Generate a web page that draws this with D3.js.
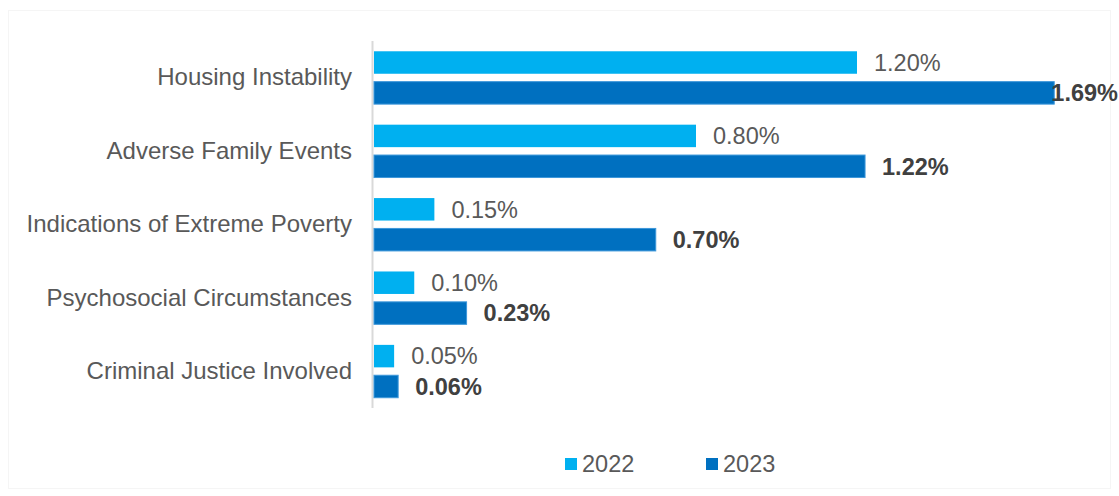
<!DOCTYPE html>
<html>
<head>
<meta charset="utf-8">
<script src="https://cdn.jsdelivr.net/npm/d3@7"></script>
<style>
  html, body { margin: 0; padding: 0; background: #ffffff; }
  svg { display: block; font-family: "Liberation Sans", Arial, sans-serif; }
</style>
</head>
<body>
<svg id="chart" width="1119" height="496"></svg>
<script>
// Categories (top to bottom) and percentage values per year
const categories = [
  "Housing Instability",
  "Adverse Family Events",
  "Indications of Extreme Poverty",
  "Psychosocial Circumstances",
  "Criminal Justice Involved"
];
const years = ["2022", "2023"];
const values2022 = [1.20, 0.80, 0.15, 0.10, 0.05];
const values2023 = [1.69, 1.22, 0.70, 0.23, 0.06];

const W = 1119, H = 496;
const svg = d3.select("#chart");

const colors = { "2022": "#00B0F0", "2023": "#0070C0" };
const seriesValues = { "2022": values2022, "2023": values2023 };

const rows = categories.map((c, i) => ({
  category: c,
  bars: years.map(y => ({ year: y, value: seriesValues[y][i] }))
}));

// faint outer frame
svg.append("rect")
  .attr("x", 8.5).attr("y", 10.5)
  .attr("width", 1102).attr("height", 478)
  .attr("fill", "none")
  .attr("stroke", "#f5f5f5")
  .attr("stroke-width", 1);

const plot = { left: 374, top: 41, bottom: 408 };

const x = d3.scaleLinear().domain([0, 1.8]).range([plot.left, plot.left + 1.8 * 402.5]);
const y = d3.scaleBand().domain(categories).range([plot.top, plot.bottom])
  .paddingInner(0.28).paddingOuter(0.14);
const yInner = d3.scaleBand().domain(years).range([0, y.bandwidth()]).paddingInner(0.26);

// category axis line
svg.append("line")
  .attr("x1", plot.left - 1.5).attr("x2", plot.left - 1.5)
  .attr("y1", plot.top).attr("y2", plot.bottom)
  .attr("stroke", "#d9d9d9").attr("stroke-width", 2);

// category labels
const yAxis = d3.axisLeft(y).tickSize(0).tickPadding(22);
const gy = svg.append("g").attr("transform", `translate(${plot.left},0)`).call(yAxis);
gy.select(".domain").remove();
gy.selectAll("text")
  .attr("fill", "#595959")
  .style("font-size", "24px")
  .style("font-family", "'Liberation Sans', Arial, sans-serif");

// bars
const groups = svg.append("g").selectAll("g.row")
  .data(rows).join("g")
  .attr("class", "row")
  .attr("transform", d => `translate(0,${y(d.category)})`);

groups.selectAll("rect")
  .data(d => d.bars).join("rect")
  .attr("x", x(0))
  .attr("y", d => yInner(d.year))
  .attr("width", d => x(d.value) - x(0))
  .attr("height", yInner.bandwidth())
  .attr("fill", d => colors[d.year])
  .attr("stroke", d => d.year === "2023" ? "#3d97da" : "none")
  .attr("stroke-width", 1);

// value labels
groups.selectAll("text.val")
  .data(d => d.bars).join("text")
  .attr("class", "val")
  .attr("y", d => yInner(d.year) + yInner.bandwidth() / 2)
  .attr("dy", "0.35em")
  .attr("fill", d => d.year === "2023" ? "#404040" : "#595959")
  .style("font-size", "23.5px")
  .style("font-weight", d => d.year === "2023" ? "bold" : "normal")
  .text(d => d.value.toFixed(2) + "%")
  .each(function (d) {
    const t = d3.select(this);
    const w = this.getComputedTextLength();
    let tx = x(d.value) + 17;
    if (tx + w > W - 1) tx = W - 1 - w;
    t.attr("x", tx);
  });

// legend
const legend = svg.append("g").attr("transform", "translate(565,458)");
const legendX = { "2022": 0, "2023": 141 };
years.forEach(yr => {
  const g = legend.append("g").attr("transform", `translate(${legendX[yr]},0)`);
  g.append("rect").attr("width", 12).attr("height", 12).attr("fill", colors[yr]);
  g.append("text").attr("x", 17).attr("y", 6).attr("dy", "0.36em")
    .attr("fill", "#595959").style("font-size", "23.5px").text(yr);
});
</script>
</body>
</html>
